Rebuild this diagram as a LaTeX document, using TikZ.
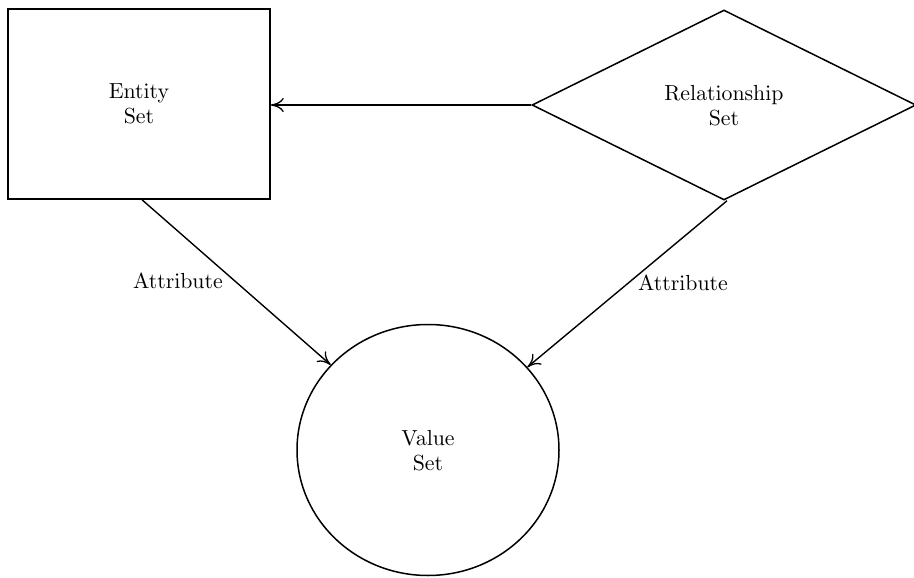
\documentclass[tikz,border=0pt]{standalone}
\usetikzlibrary{shapes.geometric,arrows.meta}
\font\diagfont=cmr10 at 21.8pt
\begin{document}
\begin{tikzpicture}[x=1pt,y=-1pt,
  every node/.style={font=\fontsize{21.8}{25}\selectfont\diagfont, align=center},
  shapeline/.style={draw, line width=1.5pt, inner sep=0pt},
  link/.style={line width=1.4pt, -{Computer Modern Rightarrow[length=13pt,width=14pt,line width=1.3pt]}},
  lbl/.style={inner sep=0pt}]
  \useasboundingbox (0,0) rectangle (914,578);
  % entity set
  \node[shapeline, rectangle, minimum width=262pt, minimum height=190pt] (entity) at (139,104) {Entity\\Set};
  % relationship set
  \node[shapeline, diamond, minimum width=384pt, minimum height=190pt] (rel) at (724,105) {Relationship\\Set};
  % value set
  \node[shapeline, ellipse, minimum width=262pt, minimum height=251pt] (value) at (428,450) {Value\\Set};
  % connectors
  \draw[link] (rel.west) -- (entity.east |- rel.west);
  \draw[link] ([xshift=3pt]entity.south) -- (value);
  \draw[link] ([xshift=3pt]rel.south) -- (value);
  % attribute labels
  \node[lbl] (attrA) at (178,281) {Attribute};
  \node[lbl] (attrB) at (683,283) {Attribute};
\end{tikzpicture}
\end{document}
